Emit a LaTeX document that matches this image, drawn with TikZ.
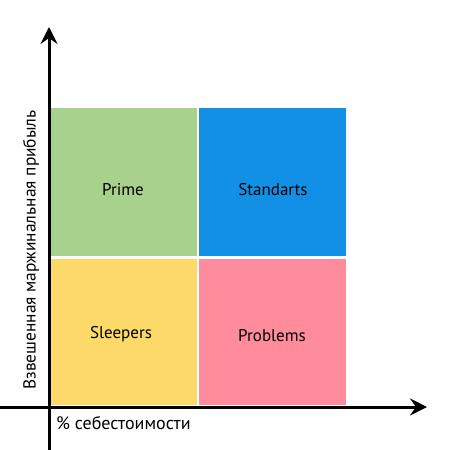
\documentclass[tikz,border=0pt]{standalone}
\usepackage{fontspec}
\setmainfont{PT Sans}
\usetikzlibrary{arrows.meta}
\definecolor{qgreen}{HTML}{A9D18E}
\definecolor{qblue}{HTML}{1190E5}
\definecolor{qyellow}{HTML}{FDD96A}
\definecolor{qpink}{HTML}{FF8C9C}
\begin{document}
\begin{tikzpicture}[x=1pt,y=-1pt,
  quad/.style={minimum width=147pt,minimum height=148pt,inner sep=0pt,outer sep=0pt},
  qtext/.style={font=\fontsize{17}{20}\selectfont,inner sep=0pt},
  axis/.style={line width=3pt,-{Stealth[length=17pt,width=17pt,inset=6pt]}},
  lab/.style={inner sep=0pt}]
\useasboundingbox (0,0) rectangle (450,450);
\node[quad,fill=qgreen,anchor=north west] (prime) at (50,108) {};
\node[quad,fill=qblue,anchor=north west] (std) at (199,108) {};
\node[quad,fill=qyellow,anchor=north west,minimum height=146pt] (sleep) at (50,259) {};
\node[quad,fill=qpink,anchor=north west,minimum height=146pt] (prob) at (199,259) {};
\node[qtext] (tprime) at (123,190) {Prime};
\node[qtext] (tstd) at (273,190) {Standarts};
\node[qtext] (tsleep) at (121,334) {Sleepers};
\node[qtext] (tprob) at (272,336) {Problems};
\coordinate (ybot) at (49,450);
\coordinate (ytop) at (49,27);
\coordinate (xl) at (0,407);
\coordinate (xr) at (427,407);
\draw[axis] (ybot) -- (ytop);
\draw[axis] (xl) -- (xr);
\node[lab,anchor=west,font=\fontsize{18}{21}\selectfont] (xlab) at (56,423) {\% себестоимости};
\node[lab,rotate=90,font=\fontsize{17.4}{20}\selectfont] (ylab) at (31,250) {Взвешенная маржинальная прибыль};
\end{tikzpicture}
\end{document}
